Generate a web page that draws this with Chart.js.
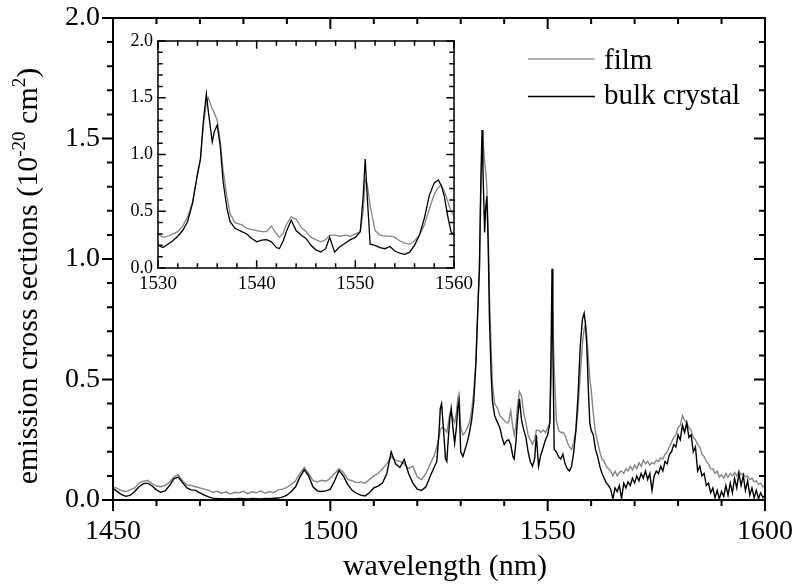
<!DOCTYPE html>
<html>
<head>
<meta charset="utf-8">
<script src="https://cdn.jsdelivr.net/npm/chart.js@4.4.1/dist/chart.umd.min.js"></script>
<style>
  html, body { margin: 0; padding: 0; background: #fff; }
  #wrap { position: relative; width: 798px; height: 585px; }
  #mainChart { position: absolute; left: 0; top: 0; }
  #insetChart { position: absolute; left: 110px; top: 30px; }
</style>
</head>
<body>
<div id="wrap">
  <canvas id="mainChart" width="798" height="585"></canvas>
  <canvas id="insetChart" width="365" height="265"></canvas>
</div>
<script>
// wavelength (nm); finer around the sharp peaks
const wavelength = [
  // 1450 - 1524, 1 nm
  1450, 1451, 1452, 1453, 1454, 1455, 1456, 1457, 1458, 1459,
  1460, 1461, 1462, 1463, 1464, 1465, 1466, 1467, 1468, 1469,
  1470, 1471, 1472, 1473, 1474, 1475, 1476, 1477, 1478, 1479,
  1480, 1481, 1482, 1483, 1484, 1485, 1486, 1487, 1488, 1489,
  1490, 1491, 1492, 1493, 1494, 1495, 1496, 1497, 1498, 1499,
  1500, 1501, 1502, 1503, 1504, 1505, 1506, 1507, 1508, 1509,
  1510, 1511, 1512, 1513, 1514, 1515, 1516, 1517, 1518, 1519,
  1520, 1521, 1522, 1523, 1524,
  // 1524.5 - 1560
  1524.5, 1525, 1525.3, 1525.6, 1526,
  1526.5, 1526.8, 1527, 1527.5, 1527.8,
  1528.2, 1528.6, 1529, 1529.3, 1529.6,
  1530, 1530.5, 1531, 1531.5, 1532,
  1532.5, 1533, 1533.5, 1534, 1534.3,
  1534.6, 1534.9, 1535.1, 1535.5, 1535.7,
  1536, 1536.3, 1536.6, 1537, 1537.3,
  1537.8, 1538.5, 1539, 1539.5, 1540,
  1540.5, 1541, 1541.5, 1542, 1542.3,
  1542.7, 1543, 1543.5, 1544, 1544.5,
  1545, 1545.5, 1546, 1546.5, 1547,
  1547.4, 1547.9, 1548.4, 1549, 1549.5,
  1550, 1550.5, 1550.8, 1551, 1551.2,
  1551.5, 1552, 1552.5, 1553, 1553.5,
  1554, 1554.5, 1555, 1555.5, 1556,
  1556.5, 1557, 1557.5, 1558, 1558.4,
  1558.7, 1559, 1559.4, 1559.7, 1560,
  // 1560.5 - 1600, 0.5 nm
  1560.5, 1561, 1561.5, 1562, 1562.5, 1563, 1563.5, 1564, 1564.5, 1565,
  1565.5, 1566, 1566.5, 1567, 1567.5, 1568, 1568.5, 1569, 1569.5, 1570,
  1570.5, 1571, 1571.5, 1572, 1572.5, 1573, 1573.5, 1574, 1574.5, 1575,
  1575.5, 1576, 1576.5, 1577, 1577.5, 1578, 1578.5, 1579, 1579.5, 1580,
  1580.5, 1581, 1581.5, 1582, 1582.5, 1583, 1583.5, 1584, 1584.5, 1585,
  1585.5, 1586, 1586.5, 1587, 1587.5, 1588, 1588.5, 1589, 1589.5, 1590,
  1590.5, 1591, 1591.5, 1592, 1592.5, 1593, 1593.5, 1594, 1594.5, 1595,
  1595.5, 1596, 1596.5, 1597, 1597.5, 1598, 1598.5, 1599, 1599.5, 1600
];

// emission cross section of the film (10^-20 cm^2)
const film = [
  0.055, 0.048, 0.038, 0.035, 0.042, 0.05, 0.07, 0.078, 0.082, 0.068,
  0.058, 0.055, 0.06, 0.075, 0.095, 0.105, 0.08, 0.062, 0.06, 0.055,
  0.05, 0.045, 0.04, 0.032, 0.036, 0.028, 0.034, 0.025, 0.032, 0.03,
  0.036, 0.026, 0.034, 0.03, 0.038, 0.028, 0.035, 0.03, 0.042, 0.045,
  0.052, 0.065, 0.08, 0.11, 0.135, 0.11, 0.08, 0.075, 0.082, 0.078,
  0.09, 0.11, 0.13, 0.115, 0.085, 0.08, 0.072, 0.075, 0.07, 0.085,
  0.1, 0.11, 0.13, 0.15, 0.18, 0.165, 0.16, 0.15, 0.13, 0.14,
  0.095, 0.085, 0.11, 0.15, 0.19,

  0.22, 0.26, 0.29, 0.30, 0.30,
  0.29, 0.28, 0.30, 0.36, 0.37,
  0.34, 0.32, 0.36, 0.42, 0.44,
  0.30, 0.27, 0.28, 0.30, 0.32,
  0.37, 0.45, 0.58, 0.82, 0.96,
  1.25, 1.45, 1.50, 1.40, 1.37,
  1.30, 1.12, 0.86, 0.62, 0.48,
  0.40, 0.38, 0.35, 0.34, 0.33,
  0.32, 0.32, 0.37, 0.30, 0.27,
  0.31, 0.38, 0.45, 0.43, 0.36,
  0.32, 0.27, 0.25, 0.23, 0.25,
  0.29, 0.29, 0.28, 0.29, 0.28,
  0.30, 0.32, 0.50, 0.78, 0.74,
  0.55, 0.33, 0.29, 0.28, 0.28,
  0.27, 0.24, 0.22, 0.21, 0.24,
  0.29, 0.38, 0.52, 0.65, 0.71,
  0.73, 0.68, 0.58, 0.50, 0.46,

  0.36, 0.28, 0.24, 0.2, 0.17, 0.16, 0.14, 0.13, 0.12, 0.1,
  0.12, 0.1, 0.115, 0.12, 0.11, 0.13, 0.12, 0.14, 0.125, 0.145,
  0.13, 0.155, 0.14, 0.165, 0.15, 0.16, 0.145, 0.155, 0.15, 0.165,
  0.16, 0.175, 0.17, 0.19, 0.2, 0.22, 0.24, 0.26, 0.27, 0.3,
  0.31, 0.35, 0.33, 0.32, 0.3, 0.29, 0.26, 0.25, 0.23, 0.22,
  0.19, 0.18, 0.16, 0.15, 0.13, 0.13, 0.11, 0.12, 0.095, 0.105,
  0.09, 0.11, 0.095, 0.11, 0.1, 0.115, 0.1, 0.12, 0.105, 0.11,
  0.095, 0.1, 0.085, 0.09, 0.075, 0.08, 0.065, 0.07, 0.055, 0.06
];

// emission cross section of the bulk crystal (10^-20 cm^2)
const bulk = [
  0.048, 0.035, 0.022, 0.015, 0.02, 0.035, 0.055, 0.068, 0.07, 0.058,
  0.042, 0.032, 0.038, 0.06, 0.088, 0.095, 0.072, 0.05, 0.042, 0.04,
  0.03, 0.02, 0.013, 0.008, 0.006, 0.005, 0.004, 0.005, 0.004, 0.006,
  0.005, 0.004, 0.006, 0.005, 0.004, 0.006, 0.005, 0.007, 0.008, 0.012,
  0.02, 0.035, 0.055, 0.095, 0.125, 0.1, 0.055, 0.038, 0.035, 0.038,
  0.045, 0.08, 0.122, 0.1, 0.065, 0.04, 0.028, 0.02, 0.017, 0.03,
  0.05, 0.058, 0.07, 0.11, 0.2, 0.15, 0.135, 0.168, 0.11, 0.07,
  0.045, 0.04, 0.055, 0.1, 0.14,

  0.16, 0.28, 0.38, 0.40, 0.30,
  0.17, 0.16, 0.22, 0.34, 0.38,
  0.30, 0.235, 0.30, 0.38, 0.41,
  0.20, 0.18, 0.21, 0.24, 0.28,
  0.33, 0.41, 0.57, 0.83, 0.96,
  1.30, 1.535, 1.38, 1.11, 1.20,
  1.26, 1.08, 0.76, 0.52, 0.41,
  0.35, 0.32, 0.30, 0.26, 0.23,
  0.245, 0.25, 0.23, 0.18, 0.17,
  0.24, 0.32, 0.42, 0.33, 0.29,
  0.26, 0.20, 0.16, 0.14, 0.17,
  0.27, 0.14, 0.185, 0.22, 0.25,
  0.27, 0.32, 0.64, 0.96, 0.64,
  0.21, 0.20, 0.18, 0.17, 0.19,
  0.15, 0.13, 0.12, 0.14, 0.20,
  0.29, 0.44, 0.64, 0.75, 0.775,
  0.73, 0.64, 0.44, 0.32, 0.29,

  0.27, 0.21, 0.18, 0.14, 0.11, 0.09, 0.07, 0.06, 0.045, 0.005,
  0.05, 0.035, 0.06, 0.005, 0.07, 0.05, 0.075, 0.06, 0.09, 0.07,
  0.1, 0.08, 0.11, 0.09, 0.12, 0.085, 0.11, 0.04, 0.1, 0.12,
  0.11, 0.14, 0.12, 0.16, 0.15, 0.19, 0.2, 0.23, 0.22, 0.27,
  0.25, 0.31, 0.28, 0.32, 0.26, 0.27, 0.2, 0.22, 0.12, 0.14,
  0.1, 0.11, 0.06, 0.07, 0.03, 0.05, 0.01, 0.04, 0.005, 0.035,
  0.015, 0.06, 0.02, 0.07, 0.03, 0.09, 0.05, 0.11, 0.06, 0.1,
  0.04, 0.08, 0.02, 0.05, 0.01, 0.04, 0.005, 0.03, 0.01, 0.02
];

const legendLabels = ["film", "bulk crystal"];
const xTitle = "wavelength (nm)";
// y title pieces: [text, superscript?]
const yTitle = [["emission cross sections (10", false], ["-20", true], [" cm", false], ["2", true], [")", false]];

const serif = "'Liberation Serif', 'Times New Roman', serif";
Chart.defaults.font.family = serif;
Chart.defaults.color = "#000";

function datasets(lw) {
  return [
    {
      label: legendLabels[1],
      data: wavelength.map((w, i) => ({ x: w, y: bulk[i] })),
      borderColor: "#000",
      borderWidth: lw,
      order: 0,
    },
    {
      label: legendLabels[0],
      data: wavelength.map((w, i) => ({ x: w, y: film[i] })),
      borderColor: "#858585",
      borderWidth: lw,
      order: 1,
    },
  ];
}

// frame + major/minor ticks on all four sides
const axisFrame = {
  id: "axisFrame",
  afterDatasetsDraw(chart, args, o) {
    const { ctx, chartArea: a, scales } = chart;
    const x = scales.x, y = scales.y;
    ctx.save();
    ctx.strokeStyle = "#000";
    ctx.lineWidth = o.lw;
    ctx.lineCap = "square";
    ctx.strokeRect(a.left, a.top, a.right - a.left, a.bottom - a.top);
    ctx.beginPath();
    let n = Math.round((x.max - x.min) / o.xMinor);
    let r = Math.round(o.xMajor / o.xMinor);
    for (let i = 0; i <= n; i++) {
      const p = x.getPixelForValue(x.min + i * o.xMinor);
      const len = i % r === 0 ? o.major : o.minor;
      ctx.moveTo(p, a.bottom);
      ctx.lineTo(p, a.bottom + (o.outside ? len : -len));
      ctx.moveTo(p, a.top);
      ctx.lineTo(p, a.top + len);
    }
    n = Math.round((y.max - y.min) / o.yMinor);
    r = Math.round(o.yMajor / o.yMinor);
    for (let i = 0; i <= n; i++) {
      const p = y.getPixelForValue(y.min + i * o.yMinor);
      const len = i % r === 0 ? o.major : o.minor;
      ctx.moveTo(a.left, p);
      ctx.lineTo(a.left + (o.outside ? -len : len), p);
      ctx.moveTo(a.right, p);
      ctx.lineTo(a.right - len, p);
    }
    ctx.stroke();
    ctx.restore();
  },
};

// axis titles and legend of the main plot
const decor = {
  id: "decor",
  afterDraw(chart) {
    const { ctx } = chart;
    ctx.save();
    ctx.fillStyle = "#000";
    ctx.textBaseline = "alphabetic";

    ctx.font = "30px " + serif;
    ctx.textAlign = "center";
    ctx.fillText(xTitle, 445, 575);

    // rotated y title with superscripts
    ctx.translate(37, 276);
    ctx.rotate(-Math.PI / 2);
    ctx.textAlign = "left";
    let total = 0;
    for (const [t, sup] of yTitle) {
      ctx.font = (sup ? "19px " : "30px ") + serif;
      total += ctx.measureText(t).width;
    }
    let cx = -total / 2;
    for (const [t, sup] of yTitle) {
      ctx.font = (sup ? "19px " : "30px ") + serif;
      ctx.fillText(t, cx, sup ? -12 : 0);
      cx += ctx.measureText(t).width;
    }
    ctx.setTransform(1, 0, 0, 1, 0, 0);

    // legend
    const rows = [
      { label: legendLabels[0], color: "#999", y: 59, base: 69 },
      { label: legendLabels[1], color: "#000", y: 96.5, base: 104 },
    ];
    ctx.lineWidth = 1.6;
    ctx.font = "29px " + serif;
    for (const row of rows) {
      ctx.strokeStyle = row.color;
      ctx.beginPath();
      ctx.moveTo(528, row.y);
      ctx.lineTo(595, row.y);
      ctx.stroke();
      ctx.fillText(row.label, 604, row.base);
    }
    ctx.restore();
  },
};

const common = {
  responsive: false,
  animation: false,
  events: [],
  elements: { point: { radius: 0 }, line: { tension: 0, fill: false } },
  plugins: { legend: { display: false }, tooltip: { enabled: false } },
};

// fixed axis boxes, no extra auto padding from the tick labels
function fixX(h) {
  return (s) => { s.height = h; s.paddingLeft = 0; s.paddingRight = 0; };
}
function fixY(w) {
  return (s) => { s.width = w; s.paddingTop = 0; s.paddingBottom = 0; };
}

// Main chart
new Chart(document.getElementById("mainChart").getContext("2d"), {
  type: "line",
  data: { datasets: datasets(1.4) },
  plugins: [axisFrame, decor],
  options: {
    ...common,
    layout: { padding: { left: 0, top: 18, right: 33, bottom: 0 } },
    plugins: {
      ...common.plugins,
      axisFrame: { lw: 2, major: 10, minor: 5, outside: true, xMinor: 10, xMajor: 50, yMinor: 0.1, yMajor: 0.5 },
    },
    scales: {
      x: {
        type: "linear",
        min: 1450,
        max: 1600,
        grid: { display: false, drawTicks: false },
        border: { display: false },
        ticks: { stepSize: 50, padding: 15, maxRotation: 0, font: { family: serif, size: 28 }, callback: (v) => String(v) },
        afterFit: fixX(85),
      },
      y: {
        min: 0,
        max: 2,
        grid: { display: false, drawTicks: false },
        border: { display: false },
        ticks: { stepSize: 0.5, padding: 13, font: { family: serif, size: 28 }, callback: (v) => v.toFixed(1) },
        afterFit: fixY(113),
      },
    },
  },
});

// Inset: zoom on 1530 - 1560 nm
new Chart(document.getElementById("insetChart").getContext("2d"), {
  type: "line",
  data: { datasets: datasets(1.3) },
  plugins: [axisFrame],
  options: {
    ...common,
    layout: { padding: { left: 0, top: 11, right: 21, bottom: 0 } },
    plugins: {
      ...common.plugins,
      axisFrame: { lw: 1.5, major: 7, minor: 4, outside: false, xMinor: 2, xMajor: 10, yMinor: 0.1, yMajor: 0.5 },
    },
    scales: {
      x: {
        type: "linear",
        min: 1530,
        max: 1560,
        grid: { display: false, drawTicks: false },
        border: { display: false },
        ticks: { stepSize: 10, padding: 5, maxRotation: 0, font: { family: serif, size: 19 }, callback: (v) => String(v) },
        afterFit: fixX(27),
      },
      y: {
        min: 0,
        max: 2,
        grid: { display: false, drawTicks: false },
        border: { display: false },
        ticks: { stepSize: 0.5, padding: 5, font: { family: serif, size: 18 }, callback: (v) => v.toFixed(1) },
        afterFit: fixY(48),
      },
    },
  },
});
</script>
</body>
</html>
